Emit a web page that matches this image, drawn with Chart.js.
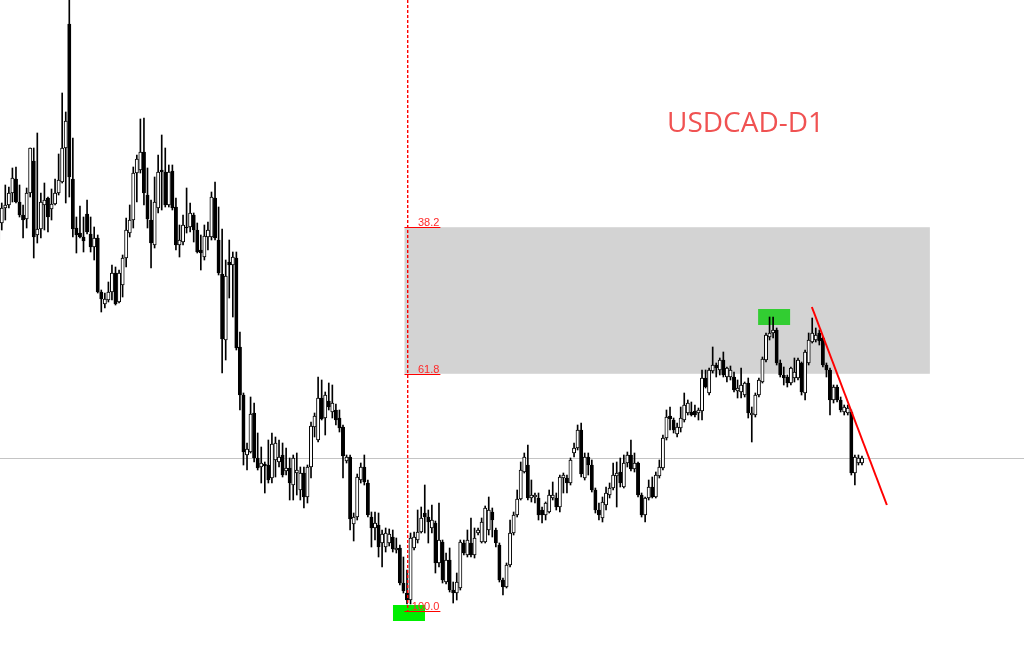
<!DOCTYPE html>
<html>
<head>
<meta charset="utf-8">
<script src="https://cdn.jsdelivr.net/npm/chart.js@4.4.0/dist/chart.umd.min.js"></script>
<style>
  html, body { margin: 0; padding: 0; background: #fff; }
  #wrap { width: 1024px; height: 645px; }
</style>
</head>
<body>
<div id="wrap"><canvas id="usdcadChart" width="1024" height="645"></canvas></div>
<script>
// USDCAD D1 candles (open / high / low / close)
const opens = [
  1.582,1.582,1.597,1.600,1.612,1.626,1.603,1.590,1.586,1.612,
  1.644,1.570,1.576,1.600,1.607,1.596,1.601,1.612,1.623,1.657,
  1.781,1.626,1.577,1.572,1.568,1.591,1.571,1.558,1.567,1.513,
  1.501,1.505,1.513,1.532,1.503,1.520,1.547,1.572,1.585,1.632,
  1.635,1.653,1.610,1.585,1.560,1.597,1.635,1.633,1.600,1.634,
  1.598,1.560,1.563,1.578,1.578,1.590,1.575,1.555,1.548,1.568,
  1.568,1.607,1.565,1.531,1.465,1.543,1.540,1.547,1.458,1.410,
  1.350,1.353,1.392,1.347,1.338,1.341,1.340,1.327,1.345,1.343,
  1.350,1.334,1.337,1.320,1.332,1.315,1.332,1.308,1.338,1.378,
  1.365,1.407,1.387,1.404,1.393,1.395,1.387,1.378,1.344,1.348,
  1.281,1.288,1.325,1.338,1.322,1.288,1.277,1.280,1.262,1.258,
  1.262,1.268,1.255,1.257,1.222,1.212,1.205,1.257,1.265,1.273,
  1.292,1.288,1.277,1.282,1.242,1.263,1.223,1.245,1.215,1.212,
  1.217,1.262,1.250,1.262,1.250,1.272,1.263,1.263,1.275,1.293,
  1.275,1.260,1.225,1.218,1.240,1.272,1.290,1.306,1.333,1.340,
  1.307,1.308,1.307,1.295,1.290,1.293,1.307,1.307,1.298,1.327,
  1.327,1.322,1.352,1.357,1.375,1.327,1.348,1.340,1.315,1.295,
  1.287,1.300,1.310,1.317,1.329,1.333,1.318,1.342,1.350,1.336,
  1.342,1.310,1.290,1.307,1.318,1.308,1.329,1.337,1.367,1.389,
  1.385,1.371,1.377,1.385,1.392,1.393,1.394,1.392,1.394,1.427,
  1.412,1.434,1.440,1.435,1.445,1.428,1.428,1.428,1.414,1.413,
  1.410,1.422,1.390,1.390,1.410,1.423,1.445,1.468,1.472,1.475,
  1.442,1.430,1.428,1.422,1.427,1.427,1.442,1.412,1.442,1.463,
  1.465,1.472,1.467,1.440,1.435,1.405,1.418,1.405,1.393,1.392,
  1.393,1.332,1.342,1.342
]
const highs = [
  1.587,1.602,1.620,1.618,1.637,1.638,1.620,1.600,1.617,1.657,
  1.657,1.672,1.612,1.622,1.608,1.616,1.626,1.651,1.712,1.693,
  1.810,1.667,1.588,1.599,1.588,1.605,1.588,1.578,1.570,1.515,
  1.512,1.523,1.540,1.538,1.535,1.550,1.587,1.600,1.638,1.650,
  1.686,1.687,1.637,1.605,1.628,1.650,1.670,1.657,1.640,1.640,
  1.607,1.580,1.590,1.617,1.602,1.592,1.582,1.570,1.580,1.583,
  1.613,1.623,1.598,1.576,1.545,1.565,1.553,1.553,1.473,1.412,
  1.362,1.408,1.402,1.372,1.358,1.343,1.365,1.372,1.368,1.365,
  1.362,1.357,1.347,1.350,1.352,1.338,1.338,1.340,1.383,1.392,
  1.428,1.425,1.413,1.422,1.420,1.401,1.395,1.380,1.350,1.350,
  1.292,1.331,1.342,1.350,1.325,1.293,1.293,1.292,1.275,1.277,
  1.276,1.275,1.267,1.260,1.248,1.235,1.272,1.273,1.295,1.298,
  1.320,1.295,1.300,1.284,1.302,1.265,1.252,1.257,1.223,1.232,
  1.265,1.265,1.275,1.287,1.277,1.277,1.287,1.299,1.308,1.297,
  1.277,1.262,1.227,1.242,1.285,1.293,1.315,1.343,1.352,1.360,
  1.325,1.312,1.312,1.298,1.303,1.315,1.323,1.312,1.330,1.332,
  1.330,1.347,1.362,1.380,1.382,1.352,1.352,1.345,1.317,1.302,
  1.308,1.318,1.322,1.342,1.343,1.347,1.350,1.353,1.365,1.352,
  1.343,1.312,1.308,1.325,1.328,1.333,1.345,1.370,1.395,1.398,
  1.387,1.382,1.398,1.412,1.405,1.403,1.400,1.397,1.435,1.435,
  1.437,1.458,1.442,1.447,1.453,1.438,1.439,1.433,1.425,1.437,
  1.423,1.427,1.398,1.412,1.427,1.448,1.472,1.488,1.488,1.477,
  1.445,1.438,1.430,1.438,1.447,1.447,1.443,1.455,1.472,1.487,
  1.477,1.475,1.468,1.442,1.437,1.420,1.420,1.408,1.400,1.400,
  1.395,1.350,1.350,1.349
]
const lows = [
  1.560,1.575,1.585,1.597,1.603,1.602,1.588,1.567,1.577,1.608,
  1.547,1.562,1.567,1.575,1.573,1.585,1.600,1.610,1.622,1.602,
  1.608,1.568,1.552,1.567,1.553,1.571,1.553,1.545,1.512,1.493,
  1.497,1.503,1.505,1.500,1.502,1.508,1.538,1.568,1.577,1.603,
  1.632,1.600,1.577,1.537,1.557,1.592,1.595,1.598,1.598,1.595,
  1.555,1.548,1.560,1.572,1.573,1.563,1.552,1.535,1.545,1.555,
  1.565,1.565,1.530,1.432,1.445,1.507,1.488,1.455,1.395,1.340,
  1.335,1.352,1.343,1.335,1.322,1.312,1.322,1.322,1.328,1.338,
  1.328,1.330,1.305,1.305,1.310,1.305,1.297,1.302,1.327,1.368,
  1.363,1.385,1.370,1.395,1.387,1.380,1.373,1.327,1.342,1.275,
  1.264,1.285,1.322,1.320,1.288,1.258,1.265,1.248,1.238,1.253,
  1.259,1.253,1.252,1.220,1.212,1.201,1.201,1.255,1.262,1.272,
  1.272,1.262,1.272,1.232,1.238,1.222,1.221,1.213,1.202,1.205,
  1.215,1.250,1.248,1.248,1.247,1.270,1.262,1.262,1.270,1.268,
  1.258,1.223,1.210,1.217,1.238,1.270,1.288,1.305,1.332,1.305,
  1.303,1.302,1.285,1.282,1.285,1.292,1.305,1.295,1.293,1.312,
  1.312,1.320,1.348,1.355,1.328,1.325,1.330,1.313,1.292,1.285,
  1.283,1.295,1.307,1.315,1.298,1.318,1.317,1.338,1.334,1.333,
  1.308,1.288,1.283,1.305,1.307,1.307,1.327,1.335,1.365,1.375,
  1.372,1.368,1.373,1.383,1.390,1.389,1.388,1.385,1.385,1.417,
  1.410,1.432,1.428,1.430,1.428,1.423,1.425,1.413,1.407,1.407,
  1.408,1.387,1.363,1.388,1.408,1.422,1.443,1.465,1.467,1.440,
  1.428,1.420,1.418,1.420,1.423,1.425,1.410,1.405,1.440,1.462,
  1.463,1.460,1.438,1.428,1.390,1.402,1.403,1.393,1.390,1.390,
  1.330,1.320,1.340,1.340
]
const closes = [
  1.565,1.597,1.600,1.612,1.627,1.603,1.590,1.585,1.612,1.657,
  1.568,1.576,1.603,1.605,1.588,1.601,1.612,1.625,1.657,1.684,
  1.628,1.576,1.570,1.568,1.564,1.573,1.558,1.567,1.513,1.506,
  1.506,1.513,1.532,1.501,1.532,1.547,1.575,1.585,1.632,1.646,
  1.653,1.612,1.586,1.562,1.603,1.633,1.633,1.600,1.633,1.597,
  1.560,1.565,1.580,1.577,1.592,1.575,1.553,1.552,1.569,1.575,
  1.608,1.567,1.532,1.466,1.529,1.540,1.548,1.457,1.410,1.353,
  1.356,1.391,1.347,1.337,1.342,1.339,1.325,1.361,1.362,1.348,
  1.330,1.337,1.322,1.347,1.335,1.332,1.308,1.338,1.379,1.389,
  1.407,1.386,1.410,1.398,1.402,1.385,1.377,1.349,1.348,1.286,
  1.288,1.328,1.338,1.323,1.290,1.277,1.282,1.258,1.271,1.272,
  1.271,1.256,1.257,1.222,1.214,1.205,1.267,1.268,1.273,1.287,
  1.288,1.283,1.285,1.242,1.265,1.225,1.245,1.215,1.212,1.223,
  1.263,1.252,1.265,1.250,1.267,1.275,1.283,1.297,1.295,1.285,
  1.262,1.225,1.218,1.240,1.272,1.290,1.306,1.335,1.348,1.307,
  1.310,1.310,1.290,1.290,1.302,1.310,1.310,1.298,1.328,1.330,
  1.322,1.345,1.357,1.375,1.331,1.348,1.340,1.315,1.295,1.290,
  1.303,1.312,1.317,1.330,1.332,1.322,1.342,1.350,1.336,1.342,
  1.310,1.290,1.307,1.318,1.308,1.330,1.338,1.367,1.388,1.386,
  1.375,1.378,1.387,1.400,1.402,1.390,1.390,1.395,1.427,1.418,
  1.435,1.440,1.437,1.445,1.430,1.437,1.435,1.415,1.417,1.420,
  1.422,1.392,1.392,1.410,1.425,1.446,1.470,1.472,1.475,1.442,
  1.430,1.427,1.422,1.437,1.433,1.445,1.413,1.453,1.465,1.472,
  1.470,1.464,1.440,1.435,1.405,1.418,1.405,1.395,1.398,1.397,
  1.332,1.348,1.347,1.347
]

// fibonacci drawn from the top spike down to the low
const fibHigh = 1.815
const fibLow = 1.194
const fibLevels = [38.2, 61.8, 100.0]
const fibZoneLevels = [38.2, 61.8]

// red trend line: candle index / price
const trendX = [228.9, 250.0]
const trendY = [1.498, 1.300]

// green marks: on the high of one candle, under the low of another
const markHighCandle = 218
const markLowCandle = 115

const chartTitle = 'USDCAD-D1'

const bodyData = opens.map((o, i) => ({ x: i, y: [o, closes[i]] }))
const wickData = lows.map((l, i) => ({ x: i, y: [l, highs[i]] }))
const trendData = trendX.map((x, i) => ({ x: x, y: trendY[i] }))

const fibPrice = lvl => fibHigh - (fibHigh - fibLow) * lvl / 100

const mt4Objects = {
    id: 'mt4Objects',
    beforeDatasetsDraw(chart) {
        const { ctx, chartArea, scales: { x, y } } = chart
        ctx.save()
        // 38.2 - 61.8 zone
        const zx0 = x.getPixelForValue(114.3)
        const zx1 = x.getPixelForValue(262.1)
        const zy0 = y.getPixelForValue(fibPrice(fibZoneLevels[0]))
        const zy1 = y.getPixelForValue(fibPrice(fibZoneLevels[1]))
        ctx.fillStyle = '#d3d3d3'
        ctx.fillRect(zx0, zy0, zx1 - zx0, zy1 - zy0)

        // bid line at last close
        const by = Math.round(y.getPixelForValue(closes[closes.length - 1])) + 0.5
        ctx.strokeStyle = '#c4c4c4'
        ctx.lineWidth = 1
        ctx.beginPath()
        ctx.moveTo(chartArea.left, by)
        ctx.lineTo(chartArea.right, by)
        ctx.stroke()

        // green boxes
        const hx = x.getPixelForValue(markHighCandle)
        const hy = y.getPixelForValue(highs[markHighCandle])
        ctx.fillStyle = '#32cd32'
        ctx.fillRect(hx - 15, hy - 8, 32, 16)
        const lx = x.getPixelForValue(markLowCandle)
        const ly = y.getPixelForValue(lows[markLowCandle])
        ctx.fillStyle = '#00ee00'
        ctx.fillRect(lx - 14, ly + 1, 32, 16)
        ctx.restore()
    },
    afterDatasetsDraw(chart) {
        const { ctx, chartArea, scales: { x, y } } = chart
        ctx.save()
        const fx = Math.round(x.getPixelForValue(markLowCandle))
        const lx0 = x.getPixelForValue(114.3)
        const lx1 = x.getPixelForValue(124.4)
        // level lines + labels
        ctx.lineWidth = 1
        ctx.strokeStyle = 'rgb(255,0,0)'
        ctx.font = '11px "Liberation Sans", Arial, sans-serif'
        ctx.fillStyle = 'rgb(255,40,40)'
        ctx.textAlign = 'right'
        ctx.textBaseline = 'alphabetic'
        fibLevels.forEach(lvl => {
            const ly = Math.round(y.getPixelForValue(fibPrice(lvl))) + 0.5
            ctx.beginPath()
            ctx.moveTo(lx0, ly)
            ctx.lineTo(lx1, ly)
            ctx.stroke()
            ctx.fillText(lvl.toFixed(1), lx1 - 1, ly - 2)
        })
        // dashed fib line, from the top down to the 100 level
        const bottom = Math.round(y.getPixelForValue(fibLow))
        ctx.fillStyle = '#ff0000'
        for (let py = chartArea.top; py < bottom; py += 5) {
            ctx.fillRect(fx, py, 1.4, Math.min(3, bottom - py))
        }
        // title
        ctx.font = '28px "Open Sans", sans-serif'
        ctx.fillStyle = '#f05252'
        ctx.textAlign = 'left'
        ctx.textBaseline = 'middle'
        ctx.fillText(chartTitle, 667, 124)
        ctx.restore()
    }
}

new Chart('usdcadChart', {
    type: 'bar',
    data: {
        datasets: [
            {
                type: 'line',
                data: trendData,
                borderColor: '#ff0000',
                borderWidth: 2,
                pointRadius: 0,
                order: 0
            },
            {
                data: bodyData,
                grouped: false,
                barThickness: 3.3,
                borderWidth: 1,
                borderSkipped: false,
                borderColor: '#000000',
                backgroundColor: c => (closes[c.dataIndex] >= opens[c.dataIndex] ? '#ffffff' : '#000000'),
                order: 1
            },
            {
                data: wickData,
                grouped: false,
                barThickness: 1,
                borderWidth: 0,
                backgroundColor: '#000000',
                order: 2
            }
        ]
    },
    options: {
        responsive: false,
        animation: false,
        events: [],
        layout: { padding: 0 },
        plugins: {
            legend: { display: false },
            tooltip: { enabled: false }
        },
        scales: {
            x: { type: 'linear', display: false, min: 0.506, max: 288.58, offset: false },
            y: { display: false, min: 1.160, max: 1.805 }
        }
    },
    plugins: [mt4Objects]
})
</script>
</body>
</html>
